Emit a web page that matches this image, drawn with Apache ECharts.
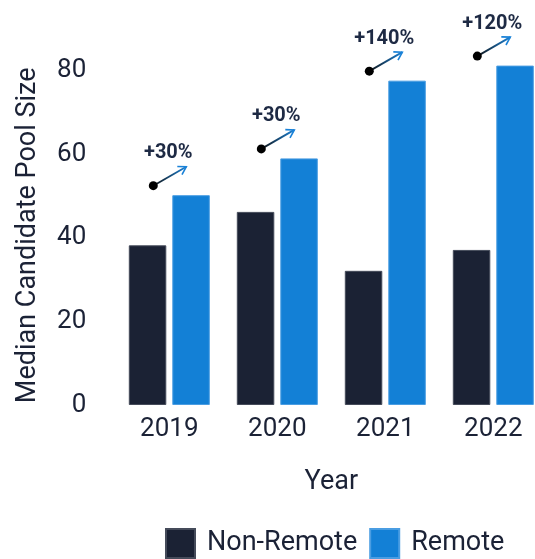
<!DOCTYPE html>
<html>
<head>
<meta charset="utf-8">
<script src="https://cdn.jsdelivr.net/npm/echarts@6/dist/echarts.min.js"></script>
<style>
  html, body { margin: 0; padding: 0; background: #ffffff; }
  #chart { width: 535px; height: 559px; }
</style>
</head>
<body>
<div id="chart"></div>
<script>
// Median candidate pool size per year, non-remote vs remote postings
const years = ['2019', '2020', '2021', '2022'];
const nonRemote = [38.2, 46.2, 32.1, 37.1];
const remote = [50.2, 59.0, 77.6, 81.2];
const growthLabels = ['+30%', '+30%', '+140%', '+120%'];
const yTicks = [0, 20, 40, 60, 80];

const INK = '#1b2236';
const NAVY = '#1b2234';
const BLUE = '#1380d6';

const chart = echarts.init(document.getElementById('chart'), null, { renderer: 'canvas' });

// Growth annotation: dot, gradient arrow and percentage over each remote bar
function renderGrowth(params, api) {
  const p = api.coord([api.value(0), api.value(1)]);
  const label = growthLabels[params.dataIndex];
  const x0 = p[0] - 16, y0 = p[1] - 9.5;
  const x1 = p[0] + 17, y1 = p[1] - 28.5;
  const ang = Math.atan2(y1 - y0, x1 - x0);
  const arm = 9, spread = 0.55;
  const a1 = [x1 - arm * Math.cos(ang - spread), y1 - arm * Math.sin(ang - spread)];
  const a2 = [x1 - arm * Math.cos(ang + spread), y1 - arm * Math.sin(ang + spread)];
  return {
    type: 'group',
    children: [
      {
        type: 'line',
        shape: { x1: x0, y1: y0, x2: x1, y2: y1 },
        style: {
          lineWidth: 1.8,
          stroke: {
            type: 'linear', x: x0, y: y0, x2: x1, y2: y1, global: true,
            colorStops: [{ offset: 0, color: '#111111' }, { offset: 1, color: '#1a82d8' }]
          }
        }
      },
      {
        type: 'polyline',
        shape: { points: [a1, [x1, y1], a2] },
        style: { stroke: '#1a82d8', lineWidth: 1.6, fill: null }
      },
      {
        type: 'circle',
        shape: { cx: x0, cy: y0, r: 4.5 },
        style: { fill: '#000000' }
      },
      {
        type: 'text',
        style: {
          x: p[0] - 1, y: p[1] - 42,
          text: label,
          fill: '#1e2a44',
          font: 'bold 20px Roboto',
          align: 'center',
          verticalAlign: 'middle'
        }
      }
    ]
  };
}

chart.setOption({
  backgroundColor: '#ffffff',
  animation: false,
  textStyle: { fontFamily: 'Roboto' },
  grid: { left: 115.3, width: 432, top: 65.6, bottom: 154, outerBoundsMode: 'none', containLabel: false },
  legend: {
    data: ['Non-Remote', 'Remote'],
    left: 165,
    top: 528,
    padding: 0,
    itemWidth: 29,
    itemHeight: 29,
    itemGap: 12,
    icon: 'rect',
    textStyle: { fontSize: 27, color: INK, fontFamily: 'Roboto', padding: [0, 0, 0, 7] }
  },
  xAxis: {
    type: 'category',
    data: years,
    name: 'Year',
    nameLocation: 'middle',
    nameGap: 64,
    nameTextStyle: { fontSize: 27, color: INK },
    axisLine: { show: false },
    axisTick: { show: false },
    axisLabel: { fontSize: 26, color: INK, margin: 11 }
  },
  yAxis: {
    type: 'value',
    min: 0,
    max: 'dataMax',
    interval: 20,
    name: 'Median Candidate Pool Size',
    nameLocation: 'middle',
    nameRotate: 90,
    nameGap: 74,
    nameTextStyle: { fontSize: 27, color: INK },
    axisLine: { show: false },
    axisTick: { show: false },
    splitLine: { show: false },
    axisLabel: {
      fontSize: 26,
      color: INK,
      margin: 29,
      formatter: v => (yTicks.indexOf(v) >= 0 ? String(v) : '')
    }
  },
  series: [
    {
      name: 'Non-Remote',
      type: 'bar',
      data: nonRemote,
      barWidth: 37.5,
      barGap: '16%',
      itemStyle: { color: NAVY, borderColor: '#454b5a', borderWidth: 1 }
    },
    {
      name: 'Remote',
      type: 'bar',
      data: remote,
      barWidth: 37.5,
      barGap: '16%',
      itemStyle: { color: BLUE, borderColor: '#4a9de2', borderWidth: 1 }
    },
    {
      name: 'growth',
      type: 'custom',
      renderItem: renderGrowth,
      data: years.map((y, i) => [i, remote[i]]),
      encode: { x: 0, y: 1 },
      silent: true,
      z: 5
    }
  ]
});
</script>
</body>
</html>
